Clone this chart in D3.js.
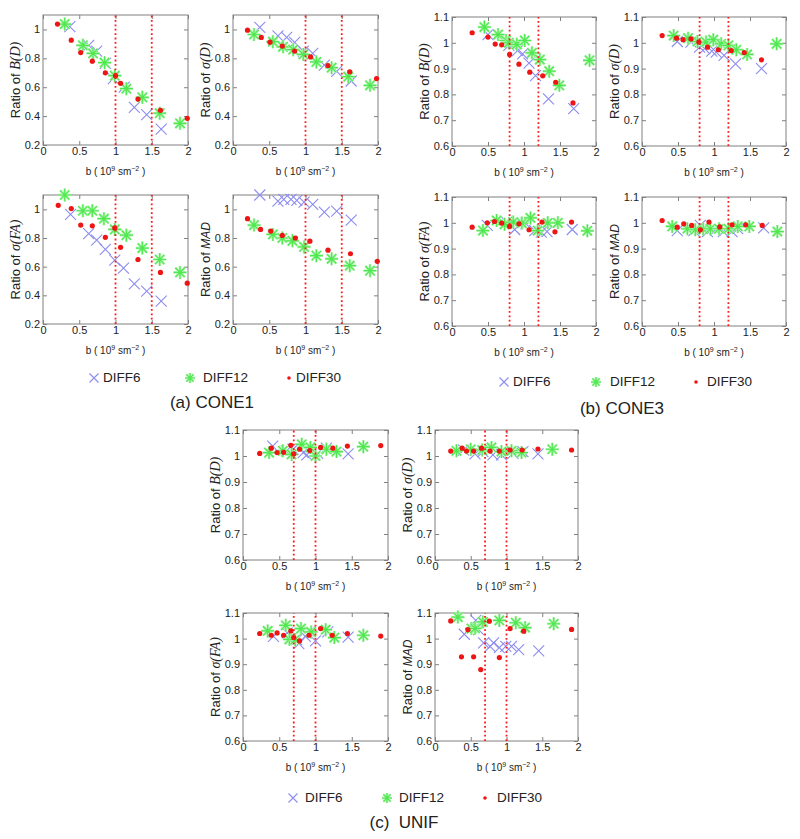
<!DOCTYPE html>
<html><head><meta charset="utf-8">
<script src="https://cdn.jsdelivr.net/npm/d3@7"></script>
<style>
body{margin:0;background:#fff}
svg{display:block}
text{font-family:"Liberation Sans",Arial,sans-serif}
</style>
</head><body>
<svg id="chart" width="800" height="839"></svg>
<script>
// ---------- tick values ----------
const xTicks = [0, 0.5, 1, 1.5, 2];
const yTicksCone1 = [0.2, 0.4, 0.6, 0.8, 1];
const yTicksFine = [0.6, 0.7, 0.8, 0.9, 1, 1.1];
const seriesNames = ["DIFF6", "DIFF12", "DIFF30"];
const captions = ["(a) CONE1", "(b) CONE3", "(c)  UNIF"];
const refLinesCone1 = [1, 1.5];
const refLinesCone3 = [0.8, 1.2];
const refLinesUnif = [0.7, 1.0];

// ---------- CONE1 ----------
const c1_BD_d6 = [[0.37,1.02],[0.63,0.89],[0.74,0.85],[0.86,0.765],[0.97,0.66],[1.12,0.60],[1.26,0.46],[1.43,0.41],[1.63,0.31]];
const c1_BD_d12 = [[0.30,1.037],[0.55,0.89],[0.69,0.834],[0.85,0.77],[0.99,0.68],[1.15,0.59],[1.37,0.53],[1.61,0.42],[1.89,0.35]];
const c1_BD_d30 = [[0.2,1.037],[0.39,0.926],[0.52,0.84],[0.68,0.78],[0.86,0.70],[1.0,0.68],[1.07,0.627],[1.31,0.518],[1.62,0.44],[1.99,0.385]];

const c1_SD_d6 = [[0.37,1.015],[0.62,0.955],[0.74,0.945],[0.85,0.91],[0.97,0.85],[1.1,0.835],[1.26,0.753],[1.43,0.71],[1.63,0.643]];
const c1_SD_d12 = [[0.29,0.965],[0.55,0.915],[0.69,0.88],[0.83,0.86],[0.97,0.827],[1.15,0.775],[1.36,0.735],[1.59,0.673],[1.89,0.613]];
const c1_SD_d30 = [[0.2,0.995],[0.39,0.945],[0.51,0.912],[0.68,0.885],[0.85,0.85],[1.07,0.81],[1.31,0.75],[1.61,0.707],[1.98,0.66]];

const c1_SFA_d6 = [[0.38,0.965],[0.63,0.83],[0.74,0.785],[0.86,0.72],[0.99,0.645],[1.11,0.59],[1.26,0.48],[1.43,0.43],[1.63,0.36]];
const c1_SFA_d12 = [[0.30,1.1],[0.55,0.99],[0.68,0.99],[0.84,0.935],[0.99,0.86],[1.15,0.82],[1.37,0.73],[1.61,0.65],[1.89,0.56]];
const c1_SFA_d30 = [[0.21,1.028],[0.39,1.005],[0.52,0.89],[0.68,0.885],[0.86,0.805],[0.99,0.87],[1.07,0.735],[1.31,0.65],[1.62,0.56],[1.99,0.485]];

const c1_MAD_d6 = [[0.37,1.1],[0.62,1.058],[0.70,1.07],[0.80,1.07],[0.88,1.063],[0.98,1.05],[1.10,1.035],[1.26,0.98],[1.43,0.988],[1.63,0.925]];
const c1_MAD_d12 = [[0.29,0.89],[0.55,0.825],[0.68,0.8],[0.82,0.78],[0.98,0.738],[1.15,0.677],[1.36,0.655],[1.61,0.607],[1.89,0.572]];
const c1_MAD_d30 = [[0.2,0.935],[0.38,0.86],[0.52,0.848],[0.68,0.818],[0.86,0.8],[1.06,0.778],[1.31,0.715],[1.62,0.69],[1.99,0.637]];

// ---------- CONE3 ----------
const c3_BD_d6 = [[0.5,1.032],[0.79,0.99],[0.91,0.97],[0.98,0.957],[1.07,0.921],[1.16,0.873],[1.34,0.783],[1.69,0.745]];
const c3_BD_d12 = [[0.45,1.061],[0.64,1.032],[0.75,1.009],[0.79,1.0],[0.9,0.994],[1.01,1.009],[1.11,0.961],[1.22,0.935],[1.35,0.89],[1.49,0.835],[1.91,0.932]];
const c3_BD_d30 = [[0.28,1.039],[0.5,1.022],[0.6,0.995],[0.69,0.992],[0.8,0.955],[0.93,0.917],[1.08,0.886],[1.26,0.872],[1.44,0.847],[1.68,0.767]];

const c3_SD_d6 = [[0.49,1.005],[0.68,1.003],[0.8,0.983],[0.87,0.977],[0.97,0.968],[1.03,0.964],[1.14,0.951],[1.3,0.918],[1.66,0.9]];
const c3_SD_d12 = [[0.44,1.028],[0.64,1.018],[0.77,1.005],[0.89,1.003],[0.99,1.012],[1.10,0.996],[1.2,0.99],[1.31,0.973],[1.46,0.955],[1.87,0.996]];
const c3_SD_d30 = [[0.28,1.028],[0.48,1.018],[0.57,1.012],[0.68,1.015],[0.79,1.003],[0.91,0.983],[1.06,0.973],[1.24,0.97],[1.42,0.962],[1.66,0.934]];

const c3_SFA_d6 = [[0.49,0.99],[0.76,1.003],[0.87,0.974],[1.03,0.996],[1.15,0.97],[1.24,0.964],[1.32,0.966],[1.67,0.974]];
const c3_SFA_d12 = [[0.43,0.97],[0.62,1.009],[0.73,0.994],[0.85,1.003],[0.97,0.999],[1.09,1.019],[1.19,0.97],[1.33,1.0],[1.47,1.0],[1.88,0.969]];
const c3_SFA_d30 = [[0.28,0.983],[0.49,1.0],[0.59,1.005],[0.69,0.999],[0.8,0.986],[0.93,0.996],[1.07,0.973],[1.25,1.003],[1.43,0.965],[1.66,1.003]];

const c3_MAD_d6 = [[0.49,0.97],[0.72,0.97],[0.81,0.99],[0.91,0.966],[1.02,0.973],[1.13,0.966],[1.25,0.966],[1.33,0.977],[1.69,0.98]];
const c3_MAD_d12 = [[0.42,0.986],[0.63,0.977],[0.74,0.973],[0.85,0.975],[0.95,0.977],[1.07,0.977],[1.2,0.977],[1.33,0.986],[1.49,0.986],[1.88,0.966]];
const c3_MAD_d30 = [[0.28,1.009],[0.49,0.983],[0.58,0.996],[0.69,0.99],[0.81,0.973],[0.93,1.003],[1.08,0.984],[1.25,0.992],[1.44,0.992],[1.67,0.99]];

// ---------- UNIF ----------
const un_BD_d6 = [[0.41,1.038],[0.6,1.02],[0.69,1.026],[0.83,1.013],[0.88,1.004],[1.03,1.01],[1.15,1.03],[1.45,1.008]];
const un_BD_d12 = [[0.36,1.013],[0.55,1.02],[0.67,1.006],[0.81,1.045],[0.93,1.033],[1.0,1.0],[1.15,1.026],[1.29,1.017],[1.66,1.036]];
const un_BD_d30 = [[0.23,1.01],[0.39,1.03],[0.47,1.013],[0.56,1.014],[0.66,1.041],[0.7,1.008],[0.78,1.026],[0.92,1.021],[1.07,1.033],[1.24,1.03],[1.44,1.038],[1.9,1.04]];

const un_SD_d6 = [[0.4,1.023],[0.56,1.008],[0.67,1.017],[0.81,1.004],[0.93,1.004],[1.09,1.01],[1.23,1.017],[1.44,1.008]];
const un_SD_d12 = [[0.3,1.02],[0.5,1.026],[0.66,1.023],[0.79,1.033],[0.93,1.017],[1.07,1.02],[1.21,1.013],[1.64,1.026]];
const un_SD_d30 = [[0.22,1.019],[0.38,1.03],[0.44,1.019],[0.54,1.019],[0.65,1.03],[0.77,1.019],[0.9,1.019],[1.05,1.023],[1.22,1.023],[1.44,1.027],[1.91,1.023]];

const un_SFA_d6 = [[0.42,1.009],[0.61,1.022],[0.74,0.996],[0.77,0.98],[0.86,1.009],[0.92,1.026],[1.0,0.991],[1.17,1.026],[1.45,1.006]];
const un_SFA_d12 = [[0.34,1.03],[0.59,1.052],[0.64,0.997],[0.72,0.996],[0.8,1.039],[0.94,1.026],[1.14,1.035],[1.26,1.004],[1.66,1.013]];
const un_SFA_d30 = [[0.23,1.02],[0.39,1.013],[0.47,1.022],[0.56,1.013],[0.66,1.03],[0.70,1.004],[0.78,0.991],[0.91,1.013],[1.07,1.039],[1.23,1.013],[1.44,1.02],[1.9,1.01]];

const un_MAD_d6 = [[0.41,1.017],[0.57,1.071],[0.61,1.035],[0.68,0.983],[0.77,0.97],[0.82,0.983],[0.9,0.965],[0.99,0.97],[1.07,0.97],[1.17,0.957],[1.45,0.952]];
const un_MAD_d12 = [[0.32,1.084],[0.51,1.039],[0.56,1.04],[0.67,1.065],[0.9,1.071],[1.13,1.062],[1.26,1.043],[1.66,1.058]];
const un_MAD_d30 = [[0.22,1.069],[0.37,0.929],[0.46,1.035],[0.54,0.929],[0.64,0.879],[0.76,1.068],[0.9,0.926],[1.05,1.039],[1.24,1.029],[1.91,1.036]];

// ---------- layout / style ----------
const COL = { d6: "#8c8cf0", d12: "#4fe84f", d30: "#ee1515" };
const AXC = "#808080";
const fmt = d => String(+d.toFixed(2));

const svg = d3.select("#chart");

const panels = [
  // CONE1
  {x0:43,x1:188,y0:15,y1:145,yd:[0.2,1.1],yt:yTicksCone1,lab:"B(D)",ser:[c1_BD_d6,c1_BD_d12,c1_BD_d30],ref:refLinesCone1},
  {x0:233,x1:378,y0:15,y1:145,yd:[0.2,1.1],yt:yTicksCone1,lab:"σ(D)",ser:[c1_SD_d6,c1_SD_d12,c1_SD_d30],ref:refLinesCone1},
  {x0:43,x1:188,y0:195,y1:324,yd:[0.2,1.1],yt:yTicksCone1,lab:"σ(FA)",ser:[c1_SFA_d6,c1_SFA_d12,c1_SFA_d30],ref:refLinesCone1},
  {x0:233,x1:378,y0:195,y1:324,yd:[0.2,1.1],yt:yTicksCone1,lab:"MAD",ser:[c1_MAD_d6,c1_MAD_d12,c1_MAD_d30],ref:refLinesCone1},
  // CONE3
  {x0:452,x1:596,y0:17,y1:146,yd:[0.6,1.1],yt:yTicksFine,lab:"B(D)",ser:[c3_BD_d6,c3_BD_d12,c3_BD_d30],ref:refLinesCone3},
  {x0:642,x1:786,y0:17,y1:146,yd:[0.6,1.1],yt:yTicksFine,lab:"σ(D)",ser:[c3_SD_d6,c3_SD_d12,c3_SD_d30],ref:refLinesCone3},
  {x0:452,x1:596,y0:197,y1:326,yd:[0.6,1.1],yt:yTicksFine,lab:"σ(FA)",ser:[c3_SFA_d6,c3_SFA_d12,c3_SFA_d30],ref:refLinesCone3},
  {x0:642,x1:786,y0:197,y1:326,yd:[0.6,1.1],yt:yTicksFine,lab:"MAD",ser:[c3_MAD_d6,c3_MAD_d12,c3_MAD_d30],ref:refLinesCone3},
  // UNIF
  {x0:243,x1:388,y0:430,y1:560,yd:[0.6,1.1],yt:yTicksFine,lab:"B(D)",ser:[un_BD_d6,un_BD_d12,un_BD_d30],ref:refLinesUnif},
  {x0:435,x1:578,y0:430,y1:560,yd:[0.6,1.1],yt:yTicksFine,lab:"σ(D)",ser:[un_SD_d6,un_SD_d12,un_SD_d30],ref:refLinesUnif},
  {x0:243,x1:388,y0:613,y1:741,yd:[0.6,1.1],yt:yTicksFine,lab:"σ(FA)",ser:[un_SFA_d6,un_SFA_d12,un_SFA_d30],ref:refLinesUnif},
  {x0:435,x1:578,y0:613,y1:741,yd:[0.6,1.1],yt:yTicksFine,lab:"MAD",ser:[un_MAD_d6,un_MAD_d12,un_MAD_d30],ref:refLinesUnif},
];

function xPath(cx, cy, s){ return `M${cx-s},${cy-s}L${cx+s},${cy+s}M${cx-s},${cy+s}L${cx+s},${cy-s}`; }
function starPath(cx, cy, s){ const t = s*0.72; return `M${cx-s},${cy}L${cx+s},${cy}M${cx},${cy-s}L${cx},${cy+s}M${cx-t},${cy-t}L${cx+t},${cy+t}M${cx-t},${cy+t}L${cx+t},${cy-t}`; }

function drawMarker(g, kind, cx, cy, small){
  if (kind === 0) {
    g.append("path").attr("d", xPath(cx, cy, small?4.5:5.5)).attr("stroke", COL.d6).attr("stroke-width", 1.1).attr("fill","none");
  } else if (kind === 1) {
    g.append("path").attr("d", starPath(cx, cy, small?5:6.5)).attr("stroke", "#b6f5b6").attr("stroke-width", 2.6).attr("fill","none");
    g.append("path").attr("d", starPath(cx, cy, small?5:6.5)).attr("stroke", COL.d12).attr("stroke-width", 1.2).attr("fill","none");
  } else {
    g.append("circle").attr("cx", cx).attr("cy", cy).attr("r", small?1.8:2.6).attr("fill", COL.d30);
  }
}

function drawPanel(p){
  const x = d3.scaleLinear().domain([0,2]).range([p.x0,p.x1]);
  const y = d3.scaleLinear().domain(p.yd).range([p.y1,p.y0]);
  const g = svg.append("g");

  const styleAxis = a => {
    a.select(".domain").remove();
    a.selectAll(".tick line").attr("stroke", AXC);
    a.selectAll(".tick text").attr("fill", "#222").style("font-size","11px").style("font-family",'"Liberation Sans",Arial,sans-serif');
  };
  g.append("g").attr("transform",`translate(0,${p.y1})`)
    .call(d3.axisBottom(x).tickValues(xTicks).tickSizeInner(-4).tickSizeOuter(0).tickPadding(2).tickFormat(fmt)).call(styleAxis);
  g.append("g").attr("transform",`translate(0,${p.y0})`)
    .call(d3.axisTop(x).tickValues(xTicks).tickSizeInner(-4).tickSizeOuter(0).tickFormat("")).call(styleAxis);
  g.append("g").attr("transform",`translate(${p.x0},0)`)
    .call(d3.axisLeft(y).tickValues(p.yt).tickSizeInner(-4).tickSizeOuter(0).tickPadding(3).tickFormat(fmt)).call(styleAxis);
  g.append("g").attr("transform",`translate(${p.x1},0)`)
    .call(d3.axisRight(y).tickValues(p.yt).tickSizeInner(-4).tickSizeOuter(0).tickFormat("")).call(styleAxis);
  g.append("rect").attr("x",p.x0).attr("y",p.y0).attr("width",p.x1-p.x0).attr("height",p.y1-p.y0)
    .attr("fill","none").attr("stroke",AXC).attr("stroke-width",1);

  // markers
  p.ser.forEach((s, k) => {
    const mg = g.append("g");
    s.forEach(d => drawMarker(mg, k, x(d[0]), y(d[1]), false));
  });

  // reference lines
  p.ref.forEach(v => {
    g.append("line").attr("x1",x(v)).attr("x2",x(v)).attr("y1",y(p.yd[0])).attr("y2",y(p.yd[1]))
      .attr("stroke","#ff1a1a").attr("stroke-width",1.8).attr("stroke-dasharray","1.8,2.6");
  });

  // y label
  const ym = (p.y0+p.y1)/2, xl = p.x0-26;
  const t = g.append("text").attr("transform",`translate(${xl},${ym}) rotate(-90)`)
    .attr("text-anchor","middle").attr("dominant-baseline","middle").attr("fill","#222").style("font-size","13px");
  t.append("tspan").text("Ratio of  ");
  const isMad = p.lab === "MAD";
  t.append("tspan").text(p.lab).style("font-style","italic")
    .style("font-family", isMad ? '"Liberation Sans",Arial,sans-serif' : '"Liberation Serif","Times New Roman",serif')
    .style("font-size", isMad ? "12px" : "14px");

  // x label
  const xm = (p.x0+p.x1)/2;
  const tx = g.append("text").attr("x",xm).attr("y",p.y1+30).attr("text-anchor","middle").attr("fill","#222").style("font-size","10px");
  tx.append("tspan").text("b ( 10");
  tx.append("tspan").text("9").attr("dy",-4).style("font-size","7px");
  tx.append("tspan").text(" sm").attr("dy",4);
  tx.append("tspan").text("−2").attr("dy",-4).style("font-size","7px");
  tx.append("tspan").text(" )").attr("dy",4);
}

panels.forEach(drawPanel);

// legends
const legends = [
  {y:378, mx:[94,190,289], tx:[103,203,296]},
  {y:382, mx:[504,596,696], tx:[513,610,707]},
  {y:798, mx:[293,387,485], tx:[305,399,497]},
];
legends.forEach(L => {
  const g = svg.append("g");
  seriesNames.forEach((n, k) => {
    drawMarker(g, k, L.mx[k], L.y, true);
    g.append("text").attr("x", L.tx[k]).attr("y", L.y).attr("dominant-baseline","middle")
      .attr("fill","#222").style("font-size","13.5px").text(n);
  });
});

// captions
const capPos = [[212,404],[622,410],[404,824]];
captions.forEach((c,i) => {
  svg.append("text").attr("x",capPos[i][0]).attr("y",capPos[i][1]).attr("text-anchor","middle")
    .attr("dominant-baseline","middle").attr("fill","#222").style("font-size","17px").style("white-space","pre")
    .attr("xml:space","preserve").text(c);
});
</script>
</body></html>
